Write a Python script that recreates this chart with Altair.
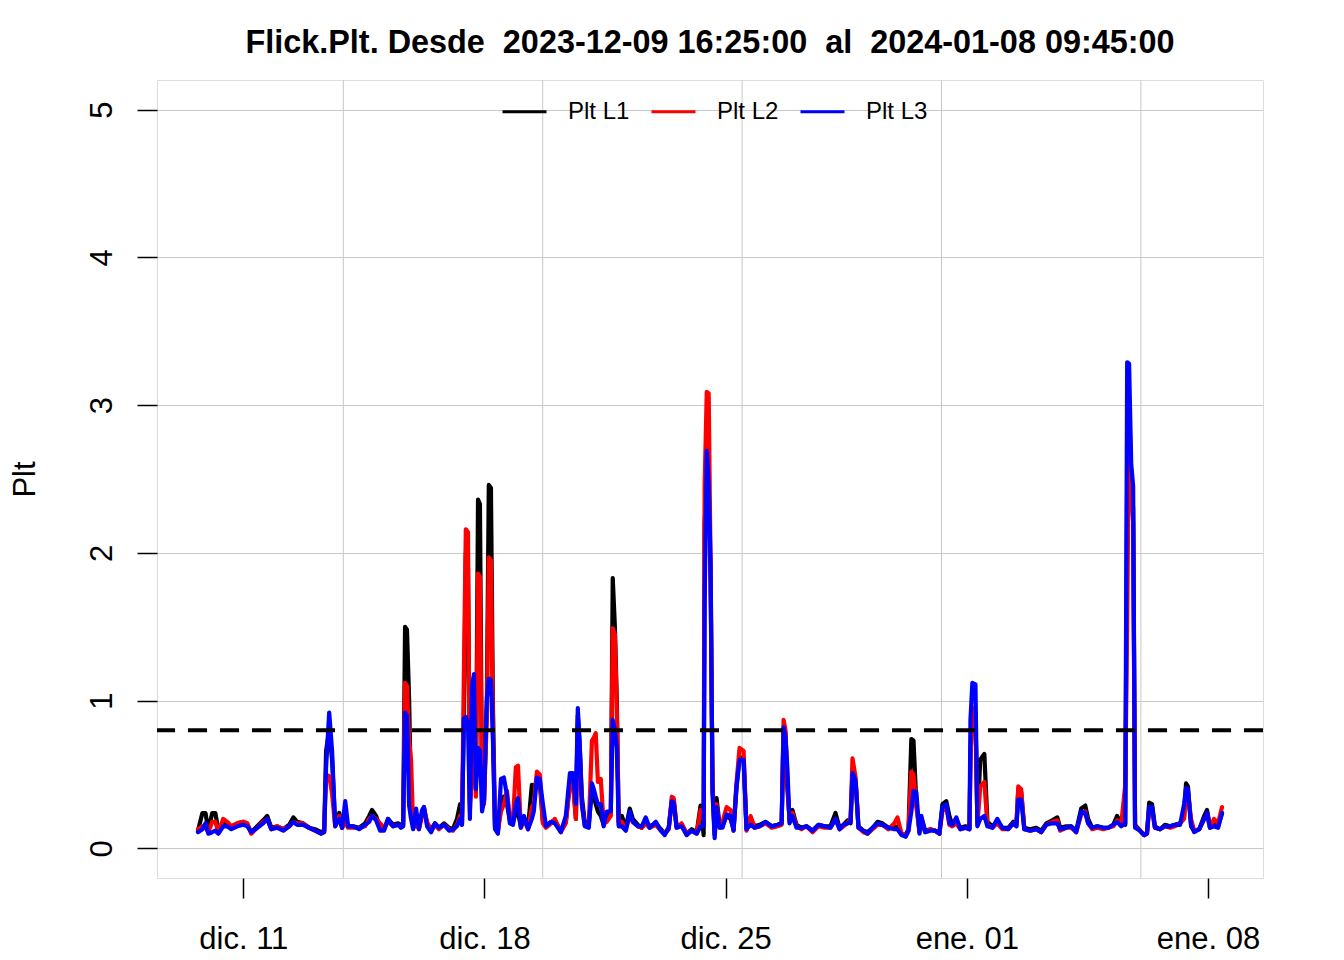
import altair as alt
import pandas as pd

# ---------------- data ----------------
series_names = ["Plt L1", "Plt L2", "Plt L3"]
series_colors = ["#000000", "#FF0000", "#0000FF"]

times = [
    "2023-12-09 16:25", "2023-12-09 19:30", "2023-12-09 21:40", "2023-12-09 23:40",
    "2023-12-10 02:20", "2023-12-10 04:30", "2023-12-10 06:40", "2023-12-10 10:00", "2023-12-10 12:50", "2023-12-10 15:40", "2023-12-10 19:50",
    "2023-12-11 00:00", "2023-12-11 02:50", "2023-12-11 05:30", "2023-12-11 09:40", "2023-12-11 13:50", "2023-12-11 16:40", "2023-12-11 19:30", "2023-12-11 23:40",
    "2023-12-12 03:50", "2023-12-12 08:00", "2023-12-12 10:50", "2023-12-12 13:30", "2023-12-12 17:40", "2023-12-12 21:50",
    "2023-12-13 02:00", "2023-12-13 06:10", "2023-12-13 08:20", "2023-12-13 09:40", "2023-12-13 11:50", "2023-12-13 13:50", "2023-12-13 16:00", "2023-12-13 18:50", "2023-12-13 20:50", "2023-12-13 23:00",
    "2023-12-14 01:00", "2023-12-14 04:30", "2023-12-14 08:40", "2023-12-14 12:50", "2023-12-14 15:40", "2023-12-14 17:40", "2023-12-14 20:30", "2023-12-14 23:20",
    "2023-12-15 02:00", "2023-12-15 04:50", "2023-12-15 08:20", "2023-12-15 11:50", "2023-12-15 13:50", "2023-12-15 15:20", "2023-12-15 16:40", "2023-12-15 18:00", "2023-12-15 19:30", "2023-12-15 20:50", "2023-12-15 22:20",
    "2023-12-16 00:20", "2023-12-16 02:20", "2023-12-16 04:30", "2023-12-16 05:50", "2023-12-16 08:00", "2023-12-16 10:50", "2023-12-16 13:30", "2023-12-16 16:20", "2023-12-16 19:50", "2023-12-16 23:20",
    "2023-12-17 02:00", "2023-12-17 04:50", "2023-12-17 07:00", "2023-12-17 08:20", "2023-12-17 09:40", "2023-12-17 11:00", "2023-12-17 12:30", "2023-12-17 13:50", "2023-12-17 15:20", "2023-12-17 16:40", "2023-12-17 18:00", "2023-12-17 19:30", "2023-12-17 20:50", "2023-12-17 22:20", "2023-12-17 23:40",
    "2023-12-18 01:40", "2023-12-18 03:00", "2023-12-18 04:30", "2023-12-18 05:50", "2023-12-18 07:20", "2023-12-18 09:20", "2023-12-18 11:30", "2023-12-18 13:30", "2023-12-18 15:40", "2023-12-18 17:40", "2023-12-18 19:50", "2023-12-18 21:50", "2023-12-18 23:20",
    "2023-12-19 01:20", "2023-12-19 03:30", "2023-12-19 06:20", "2023-12-19 09:00", "2023-12-19 10:20", "2023-12-19 12:30", "2023-12-19 14:30", "2023-12-19 16:40", "2023-12-19 18:50", "2023-12-19 22:20",
    "2023-12-20 01:00", "2023-12-20 05:10", "2023-12-20 08:40", "2023-12-20 11:30", "2023-12-20 13:30", "2023-12-20 15:40", "2023-12-20 17:00", "2023-12-20 18:20", "2023-12-20 19:50", "2023-12-20 21:50",
    "2023-12-21 00:40", "2023-12-21 02:50", "2023-12-21 04:10", "2023-12-21 05:30", "2023-12-21 07:00", "2023-12-21 09:00", "2023-12-21 11:00", "2023-12-21 13:10", "2023-12-21 16:00", "2023-12-21 17:20", "2023-12-21 18:50", "2023-12-21 20:10", "2023-12-21 21:30", "2023-12-21 23:40",
    "2023-12-22 02:30", "2023-12-22 05:10", "2023-12-22 07:20", "2023-12-22 10:50", "2023-12-22 13:30", "2023-12-22 16:20", "2023-12-22 19:00", "2023-12-22 23:20",
    "2023-12-23 02:50", "2023-12-23 05:30", "2023-12-23 08:20", "2023-12-23 10:30", "2023-12-23 11:50", "2023-12-23 13:50", "2023-12-23 17:20", "2023-12-23 20:50",
    "2023-12-24 00:20", "2023-12-24 03:50", "2023-12-24 06:30", "2023-12-24 08:40", "2023-12-24 09:20", "2023-12-24 10:50", "2023-12-24 12:10", "2023-12-24 13:30", "2023-12-24 14:50", "2023-12-24 16:20", "2023-12-24 17:40", "2023-12-24 19:50", "2023-12-24 21:50",
    "2023-12-25 00:40", "2023-12-25 03:20", "2023-12-25 05:30", "2023-12-25 07:30", "2023-12-25 09:40", "2023-12-25 12:30", "2023-12-25 14:30", "2023-12-25 17:20", "2023-12-25 20:10", "2023-12-25 23:40",
    "2023-12-26 03:50", "2023-12-26 08:00", "2023-12-26 12:10", "2023-12-26 15:00", "2023-12-26 16:20", "2023-12-26 17:40", "2023-12-26 19:00", "2023-12-26 20:30", "2023-12-26 22:30",
    "2023-12-27 01:20", "2023-12-27 04:50", "2023-12-27 08:20", "2023-12-27 12:30", "2023-12-27 16:40", "2023-12-27 20:50",
    "2023-12-28 01:00", "2023-12-28 04:30", "2023-12-28 07:20", "2023-12-28 10:00", "2023-12-28 12:50", "2023-12-28 15:00", "2023-12-28 16:20", "2023-12-28 18:30", "2023-12-28 20:30",
    "2023-12-29 00:00", "2023-12-29 02:50", "2023-12-29 06:20", "2023-12-29 09:50", "2023-12-29 13:10", "2023-12-29 17:20", "2023-12-29 21:30", "2023-12-29 23:40",
    "2023-12-30 02:30", "2023-12-30 05:20", "2023-12-30 07:20", "2023-12-30 09:20", "2023-12-30 10:50", "2023-12-30 12:50", "2023-12-30 15:00", "2023-12-30 16:20", "2023-12-30 19:00", "2023-12-30 22:30",
    "2023-12-31 02:00", "2023-12-31 04:50", "2023-12-31 07:00", "2023-12-31 09:40", "2023-12-31 11:50", "2023-12-31 13:50", "2023-12-31 16:40", "2023-12-31 19:30", "2023-12-31 23:00",
    "2024-01-01 01:50", "2024-01-01 02:30", "2024-01-01 03:50", "2024-01-01 06:00", "2024-01-01 07:20", "2024-01-01 09:20", "2024-01-01 12:10", "2024-01-01 14:20", "2024-01-01 17:50", "2024-01-01 21:10",
    "2024-01-02 00:40", "2024-01-02 04:50", "2024-01-02 08:20", "2024-01-02 10:30", "2024-01-02 11:50", "2024-01-02 13:50", "2024-01-02 16:00", "2024-01-02 20:10",
    "2024-01-03 00:20", "2024-01-03 03:50", "2024-01-03 07:20", "2024-01-03 11:30", "2024-01-03 15:00", "2024-01-03 17:00", "2024-01-03 21:10",
    "2024-01-04 00:40", "2024-01-04 04:10", "2024-01-04 07:40", "2024-01-04 10:30", "2024-01-04 12:30", "2024-01-04 15:20", "2024-01-04 18:50", "2024-01-04 23:00",
    "2024-01-05 02:30", "2024-01-05 06:00", "2024-01-05 08:40", "2024-01-05 11:30", "2024-01-05 14:20", "2024-01-05 15:40", "2024-01-05 17:00", "2024-01-05 18:30", "2024-01-05 19:50", "2024-01-05 21:10",
    "2024-01-06 00:40", "2024-01-06 03:30", "2024-01-06 05:30", "2024-01-06 07:00", "2024-01-06 09:00", "2024-01-06 11:00", "2024-01-06 14:30", "2024-01-06 18:00", "2024-01-06 21:30",
    "2024-01-07 01:00", "2024-01-07 04:30", "2024-01-07 07:20", "2024-01-07 08:40", "2024-01-07 10:00", "2024-01-07 12:10", "2024-01-07 14:20", "2024-01-07 17:50", "2024-01-07 21:20", "2024-01-07 23:20",
    "2024-01-08 01:20", "2024-01-08 04:10", "2024-01-08 07:00", "2024-01-08 09:45",
]

plt_l1 = [
    .12, .24, .24, .12, .24, .24, .12, .17, .16, .15, .17,
    .18, .16, .11, .15, .19, .22, .14, .15,
    .13, .16, .21, .18, .17, .14,
    .13, .11, .12, .66, .80, .60, .16, .24, .14, .20,
    .15, .15, .14, .17, .22, .26, .22, .14,
    .13, .20, .16, .17, .16, .16, 1.50, 1.48, 1.01, .30, .15,
    .17, .14, .24, .28, .17, .13, .17, .14, .17, .14,
    .13, .20, .30, .18, .90, 2.00, 1.90, .30, .60, .90, .40, 2.36, 2.33, .30, .32,
    1.00, 2.46, 2.44, 1.00, .15, .11, .30, .35, .30, .19, .17, .25, .24,
    .15, .21, .14, .43, .42, .45, .44, .18, .15, .18,
    .19, .12, .18, .45, .48, .20, .90, .70, .35, .18,
    .17, .40, .35, .30, .25, .22, .16, .20, .24, 1.83, 1.50, 1.00, .18, .22,
    .14, .27, .20, .16, .14, .18, .15, .17,
    .13, .10, .14, .33, .32, .15, .16, .10,
    .13, .11, .29, .09, 2.20, 2.50, 2.40, 1.80, .43, .10, .34, .15, .16,
    .22, .20, .13, .40, .62, .60, .13, .20, .15, .16,
    .18, .15, .16, .17, .80, .78, .40, .20, .26,
    .16, .14, .15, .12, .16, .15,
    .15, .24, .14, .16, .19, .17, .50, .45, .15,
    .12, .11, .14, .18, .17, .14, .14, .15,
    .10, .09, .13, .74, .73, .30, .12, .20, .12, .13,
    .12, .10, .30, .32, .22, .16, .18, .14, .15,
    .14, .60, .95, .90, .18, .60, .64, .18, .15, .18,
    .14, .14, .18, .16, .40, .38, .14, .13,
    .14, .12, .17, .19, .21, .14, .15,
    .15, .12, .27, .29, .20, .14, .15, .14,
    .14, .16, .22, .17, .16, 2.50, 3.00, 2.50, 2.30, .16,
    .12, .09, .11, .31, .30, .15, .13, .16, .15,
    .16, .17, .22, .44, .42, .15, .12, .13, .22, .26,
    .15, .16, .15, .24,
]

plt_l2 = [
    .13, .15, .14, .11, .18, .18, .11, .20, .18, .15, .17,
    .18, .17, .10, .14, .18, .20, .13, .15,
    .13, .15, .18, .17, .17, .14,
    .12, .10, .11, .50, .49, .37, .15, .22, .14, .18,
    .14, .14, .14, .15, .20, .22, .20, .17,
    .14, .18, .15, .16, .15, .15, 1.12, 1.10, .73, .60, .14,
    .16, .13, .22, .26, .18, .12, .16, .13, .16, .13,
    .12, .16, .22, .16, 1.20, 2.16, 2.14, .25, .55, .70, .35, 1.86, 1.84, .28, .30,
    .90, 1.97, 1.95, .80, .14, .12, .25, .30, .39, .20, .18, .55, .56,
    .14, .19, .13, .28, .30, .52, .50, .17, .14, .17,
    .20, .11, .17, .43, .45, .20, .85, .65, .30, .16,
    .15, .73, .75, .78, .45, .47, .17, .18, .22, 1.49, 1.45, .93, .16, .18,
    .13, .22, .18, .15, .14, .17, .14, .16,
    .12, .10, .13, .35, .34, .14, .17, .10,
    .12, .10, .26, .20, 2.45, 3.09, 3.08, 1.90, .40, .09, .30, .14, .18,
    .28, .26, .12, .44, .68, .66, .12, .22, .14, .15,
    .17, .14, .15, .16, .87, .80, .45, .18, .24,
    .15, .13, .15, .11, .15, .14,
    .14, .20, .13, .15, .17, .20, .61, .48, .14,
    .11, .10, .13, .16, .16, .13, .17, .21,
    .10, .08, .12, .52, .50, .28, .11, .18, .11, .13,
    .12, .10, .25, .28, .16, .15, .17, .13, .14,
    .13, .60, .95, .90, .16, .42, .45, .16, .14, .17,
    .13, .13, .17, .15, .42, .40, .13, .12,
    .13, .11, .16, .18, .19, .12, .14,
    .14, .11, .23, .25, .17, .13, .14, .13,
    .14, .15, .19, .16, .43, 1.50, 3.00, 2.40, 2.20, .15,
    .12, .09, .10, .27, .26, .14, .13, .15, .14,
    .15, .17, .20, .40, .38, .20, .12, .13, .20, .23,
    .14, .20, .17, .28,
]

plt_l3 = [
    .11, .13, .17, .10, .11, .12, .10, .15, .15, .13, .15,
    .16, .15, .11, .14, .17, .20, .13, .14,
    .12, .15, .18, .16, .16, .14,
    .12, .10, .11, .55, .92, .66, .15, .20, .14, .32,
    .15, .15, .13, .16, .18, .22, .19, .12,
    .12, .20, .15, .16, .14, .15, .92, .90, .29, .20, .13,
    .27, .13, .26, .28, .15, .11, .17, .14, .16, .12,
    .13, .15, .20, .16, .88, .89, .85, .20, 1.10, 1.18, .40, .68, .66, .25, .33,
    1.02, 1.15, 1.14, .75, .13, .10, .47, .48, .36, .17, .16, .30, .34,
    .14, .22, .13, .20, .25, .48, .47, .30, .15, .18,
    .17, .11, .22, .51, .51, .30, .95, .70, .30, .15,
    .14, .44, .40, .35, .30, .30, .15, .25, .25, .87, .80, .68, .15, .15,
    .12, .25, .18, .15, .15, .21, .14, .18,
    .12, .09, .14, .32, .31, .14, .15, .09,
    .12, .10, .15, .15, 1.66, 2.69, 2.46, 1.94, .38, .07, .28, .14, .14,
    .23, .22, .12, .42, .60, .60, .13, .16, .14, .15,
    .18, .15, .16, .17, .82, .75, .54, .17, .22,
    .14, .14, .15, .12, .16, .15,
    .14, .20, .13, .16, .17, .18, .51, .46, .14,
    .12, .10, .14, .17, .16, .14, .13, .13,
    .09, .08, .12, .25, .39, .38, .10, .22, .11, .12,
    .12, .10, .28, .30, .17, .16, .21, .13, .14,
    .13, .87, 1.12, 1.11, .15, .20, .22, .15, .14, .20,
    .14, .13, .17, .15, .33, .33, .13, .12,
    .13, .11, .16, .17, .17, .13, .14,
    .15, .11, .25, .24, .17, .14, .15, .14,
    .14, .16, .18, .15, .17, 3.29, 3.28, 2.60, 2.45, .14,
    .12, .09, .10, .28, .28, .14, .13, .15, .15,
    .16, .16, .30, .41, .40, .16, .11, .13, .20, .24,
    .14, .15, .14, .24,
]

limit_value = [0.8]
tick_dates = ["2023-12-11", "2023-12-18", "2023-12-25", "2024-01-01", "2024-01-08"]
tick_labels = ["dic. 11", "dic. 18", "dic. 25", "ene. 01", "ene. 08"]
y_ticks = [0, 1, 2, 3, 4, 5]
# R grid() lines sit at pretty epoch seconds (every 500000 s), local time
grid_dates = ["2023-12-13 21:40:00", "2023-12-19 16:33:20", "2023-12-25 11:26:40",
              "2023-12-31 06:20:00", "2024-01-06 01:13:20"]
# double spaces kept visible with no-break spaces (SVG collapses plain runs)
title_text = "Flick.Plt. Desde\u00a0 2023-12-09 16:25:00\u00a0 al\u00a0 2024-01-08 09:45:00"

assert len(times) == len(plt_l1) == len(plt_l2) == len(plt_l3)

# ---------------- build tables ----------------
origin = pd.Timestamp("2023-12-11 00:00")


def to_days(values):
    return [(pd.Timestamp(v) - origin) / pd.Timedelta(days=1) for v in values]


days = to_days(times)
frames = []
for name, vals in zip(series_names, [plt_l1, plt_l2, plt_l3]):
    frames.append(pd.DataFrame({"day": days, "value": vals, "series": name}))
df = pd.concat(frames, ignore_index=True)

tick_days = to_days(tick_dates)
grid_df = pd.DataFrame({"day": to_days(grid_dates)})
limit_df = pd.DataFrame({"value": limit_value})

span = max(days) - min(days)
x_domain = [min(days) - 0.04 * span, max(days) + 0.04 * span]

label_expr = " : ".join(
    f"abs(datum.value - ({d})) < 0.01 ? '{lab}'" for d, lab in zip(tick_days, tick_labels)
) + " : ''"

FONT = "Liberation Sans"
x_scale = alt.Scale(domain=x_domain, nice=False, zero=False)
y_scale = alt.Scale(domain=[-0.2, 5.2], nice=False, zero=False)

x_axis = alt.Axis(values=tick_days, labelExpr=label_expr, title=None, grid=False, domain=False,
                  tickSize=20, tickWidth=1.5, tickColor="black", labelFontSize=31, labelFont=FONT,
                  labelColor="black", labelPadding=26, labelFlush=False, labelOverlap=False)
y_axis = alt.Axis(values=y_ticks, title="Plt", grid=True, gridColor="#C8C8C8", gridWidth=1,
                  domain=False, tickSize=20, tickWidth=1.5, tickColor="black",
                  labelAngle=270, labelAlign="center", labelBaseline="alphabetic",
                  labelPadding=26, labelFontSize=31, labelFont=FONT, labelColor="black",
                  labelOverlap=False,
                  titleAngle=270, titleFontSize=31, titleFont=FONT, titleFontWeight="normal",
                  titleColor="black", titleX=-123, titleY=399, titleAlign="center",
                  titleBaseline="alphabetic")

color_enc = alt.Color(
    "series:N",
    scale=alt.Scale(domain=series_names, range=series_colors),
    legend=alt.Legend(title=None, orient="none", legendX=344, legendY=8, direction="horizontal",
                      symbolType="stroke", symbolSize=1936, symbolStrokeWidth=2.8,
                      labelFontSize=24, labelFont=FONT, labelColor="black", labelOffset=20,
                      columnPadding=15, padding=0),
)

grid_layer = alt.Chart(grid_df).mark_rule(color="#C8C8C8", strokeWidth=1).encode(
    x=alt.X("day:Q", scale=x_scale, axis=x_axis)
)

line_layers = []
for name in series_names:
    line_layers.append(
        alt.Chart(df[df["series"] == name]).mark_line(
            strokeWidth=4.2, strokeJoin="round", strokeCap="round"
        ).encode(
            x=alt.X("day:Q", scale=x_scale, axis=x_axis),
            y=alt.Y("value:Q", scale=y_scale, axis=y_axis),
            color=color_enc,
        )
    )

limit_layer = alt.Chart(limit_df).mark_rule(
    color="black", strokeWidth=4, strokeDash=[19, 13]
).encode(y=alt.Y("value:Q", scale=y_scale, axis=y_axis))

chart = alt.layer(grid_layer, *line_layers, limit_layer).properties(
    width=1106,
    height=798,
    padding={"left": 149, "top": 72, "right": 70, "bottom": 80},
    autosize=alt.AutoSizeParams(type="none"),
    title=alt.TitleParams(title_text, fontSize=32.4, font=FONT, fontWeight="bold", color="black",
                          anchor="middle", baseline="alphabetic", offset=26, dy=32),
).configure_view(stroke="black", strokeWidth=1.5).configure(background="white")

chart.save("out.html", embed_options={"renderer": "svg", "actions": False})
